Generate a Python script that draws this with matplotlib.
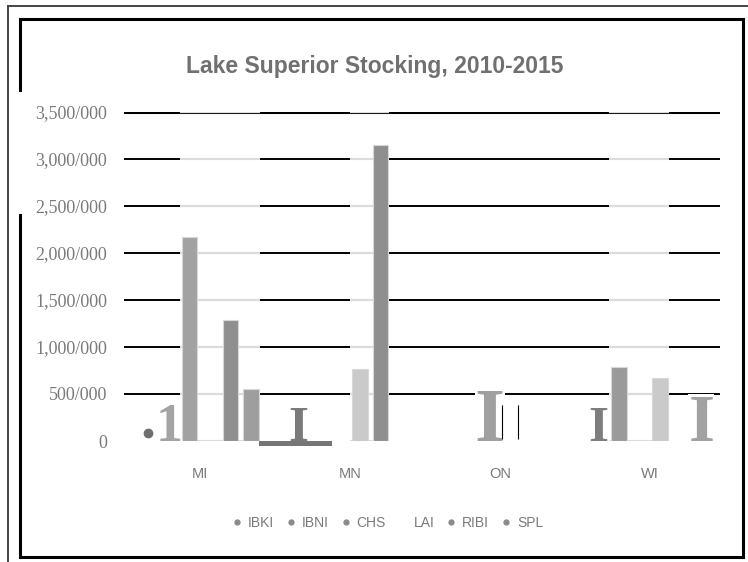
import numpy as np
import matplotlib
matplotlib.use("Agg")
import matplotlib.pyplot as plt
from matplotlib.lines import Line2D

# DATA
states = ["MI", "MN", "ON", "WI"]
series = ["IBKI", "IBNI", "CHS", "LAI", "RIBI", "SPL"]
bkt = [80000, 360000, 0, 360000]
bnt = [380000, 0, 0, 790000]
chs = [2170000, 0, 540000, 0]
lat = [0, 770000, 380000, 670000]
rbt = [1290000, 3150000, 0, 0]
spl = [550000, 0, 0, 470000]
yticks = [0, 500000, 1000000, 1500000, 2000000, 2500000, 3000000, 3500000]

# how each value got drawn in the reference: bar, glyph "I", "1", dot, or open outline
styles = {
    "IBKI": ["dot", "I", "none", "I"],
    "IBNI": ["1", "none", "none", "bar"],
    "CHS": ["bar", "none", "I", "none"],
    "LAI": ["none", "bar", "open", "bar"],
    "RIBI": ["bar", "bar", "none", "none"],
    "SPL": ["bar", "none", "none", "I"],
}
values = {"IBKI": bkt, "IBNI": bnt, "CHS": chs, "LAI": lat, "RIBI": rbt, "SPL": spl}
colors = {"IBKI": "#7c7c7c", "IBNI": "#9a9a9a", "CHS": "#a2a2a2",
          "LAI": "#cacaca", "RIBI": "#8f8f8f", "SPL": "#9e9e9e"}
glyph_colors = {"IBKI": ["#6f6f6f", "#7a7a7a", None, "#7e7e7e"],
                "IBNI": ["#a3a3a3", None, None, None],
                "CHS": [None, None, "#a0a0a0", None],
                "SPL": [None, None, None, "#a2a2a2"]}

grey = "#7a7a7a"
W, H = 748, 562

fig = plt.figure(figsize=(W / 100, H / 100), dpi=100)
ax = fig.add_axes([124 / W, 1 - 441 / H, (720 - 124) / W, (441 - 112) / H])

x = np.arange(len(states))
slot = 0.137
bw = 0.103
offsets = {s: (i - 2.5) * slot for i, s in enumerate(series)}

ax.set_xlim(-0.505, 3.467)
ax.set_ylim(0, 3500000)

# black gridlines
for t in yticks[1:]:
    ax.axhline(t, color="black", lw=2.2 if t == yticks[-1] else 1.4, zorder=1)

# light grey gridline segments across the solid bars in each group
for j in range(len(states)):
    edges = [x[j] + offsets[s] for s in series if styles[s][j] == "bar"]
    if not edges:
        continue
    x0, x1 = min(edges) - bw / 2 - 0.015, max(edges) + bw / 2 + 0.005
    for t in yticks:
        ax.plot([x0, x1], [t, t], color="#dcdcdc", lw=1.6, zorder=2,
                solid_capstyle="butt")

fig.canvas.draw()
px_per_unit = ax.transData.transform((0, 1000000))[1] - ax.transData.transform((0, 0))[1]

for s in series:
    for j in range(len(states)):
        v = values[s][j]
        st = styles[s][j]
        xc = x[j] + offsets[s]
        if st == "bar":
            ax.bar(xc, v, width=bw, color=colors[s], edgecolor="#d8d8d8",
                   linewidth=0.8, zorder=3)
        elif st in ("I", "1"):
            h_px = v / 1000000 * px_per_unit
            fs = h_px / 0.66 * 72 / 100
            ax.text(xc, 0, st, fontsize=fs, family="Liberation Serif",
                    fontweight="bold", color=glyph_colors[s][j], ha="center",
                    va="baseline", zorder=3,
                    bbox=dict(facecolor="white", edgecolor="none", pad=0))
        elif st == "dot":
            ax.plot(xc, v, marker="o", ms=6, color=glyph_colors[s][j],
                    zorder=3, clip_on=False)
        elif st == "open":
            ax.vlines([xc - bw / 2, xc + bw / 2], 20000, v, color="black",
                      lw=0.8, zorder=3)

# dark strip under the baseline between MI and MN
strip_x0 = x[0] + offsets["SPL"] + bw / 2
strip_x1 = x[1] + offsets["CHS"] - bw / 2
ax.bar((strip_x0 + strip_x1) / 2, -55000, width=strip_x1 - strip_x0,
       color="#767676", zorder=4, clip_on=False)


def tick_label(t):
    # the reference shows the last thousands separator as a slash
    head, sep, tail = f"{t:,}".rpartition(",")
    return head + "/" + tail if sep else tail


ax.set_yticks(yticks)
ax.set_yticklabels([tick_label(t) for t in yticks],
                   family="Liberation Serif", fontsize=13, color=grey)
ax.set_xticks(x)
ax.set_xticklabels(states, family="Liberation Sans", fontsize=10.5, color=grey)
ax.tick_params(length=0)
ax.tick_params(axis="y", pad=12)
ax.tick_params(axis="x", pad=19)
for sp in ax.spines.values():
    sp.set_visible(False)

fig.text(375 / W, 1 - 67 / H, "Lake Superior Stocking, 2010-2015",
         family="Liberation Sans", fontweight="bold", fontsize=16.5,
         color="#707070", ha="center", va="center")

# legend
handles = []
for s in series:
    if s == "LAI":
        handles.append(Line2D([], [], linestyle="none", marker="None"))
    else:
        handles.append(Line2D([], [], linestyle="none", marker="o", ms=3.5,
                              color="#8a8a8a"))
leg = fig.legend(handles, series, loc="center", bbox_to_anchor=(388 / W, 1 - 523 / H),
                 ncol=6, frameon=False, handlelength=0.6, handletextpad=0.5,
                 columnspacing=0.9, prop={"family": "Liberation Sans", "size": 10})
for t in leg.get_texts():
    t.set_color(grey)


# frames around the chart
def fline(xs, ys, lw, color="black"):
    fig.add_artist(Line2D([a / W for a in xs], [1 - b / H for b in ys],
                          transform=fig.transFigure, color=color, lw=lw,
                          solid_capstyle="projecting"))


fline([8, W], [6, 6], 1.4, "#444444")
fline([8, 8], [6, H], 1.4, "#444444")
fline([20, 743], [19, 19], 2.2)
fline([743, 743], [19, 557], 2.2)
fline([20, 743], [557, 557], 2.2)
fline([20, 20], [19, 90], 2.2)
fline([20, 20], [215, 557], 2.2)

fig.savefig("out.png", dpi=100)
